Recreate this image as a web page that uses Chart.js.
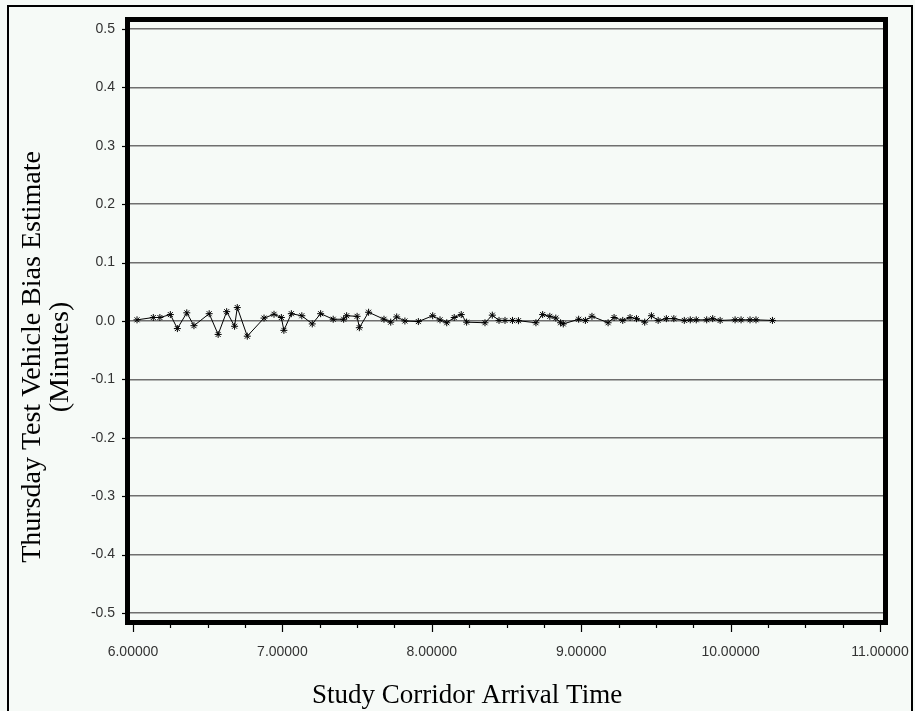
<!DOCTYPE html>
<html>
<head>
  <meta charset="utf-8">
  <title>Thursday Test Vehicle Bias Estimate</title>
  <style>
    body {
      margin: 0;
      background: #f6faf7;
    }
    #chart {
      display: block;
    }
  </style>
</head>
<body>
  <canvas id="chart" width="915" height="711"></canvas>

  <script src="https://cdn.jsdelivr.net/npm/chart.js@4.4.1/dist/chart.umd.min.js"></script>
  <script>
    // arrival time (hours) and bias estimate (minutes)
    var arrivalTime = [
      6.027, 6.136, 6.18, 6.25, 6.297, 6.36, 6.408, 6.51, 6.57, 6.627,
      6.68, 6.698, 6.765, 6.877, 6.944, 6.993, 7.01, 7.06, 7.13, 7.20,
      7.256, 7.34, 7.41, 7.43, 7.50, 7.515, 7.577, 7.68, 7.725, 7.765,
      7.82, 7.91, 8.006, 8.055, 8.10, 8.15, 8.197, 8.233, 8.356, 8.405,
      8.45, 8.49, 8.54, 8.58, 8.697, 8.742, 8.79, 8.83, 8.862, 8.88,
      8.983, 9.028, 9.072, 9.18, 9.22, 9.278, 9.327, 9.37, 9.425, 9.47,
      9.515, 9.57, 9.62, 9.69, 9.73, 9.77, 9.84, 9.88, 9.93, 10.03,
      10.07, 10.13, 10.17, 10.28
    ];
    var biasEstimate = [
      0.002, 0.006, 0.006, 0.011, -0.013, 0.014, -0.008, 0.0125, -0.023, 0.016,
      -0.009, 0.023, -0.026, 0.005, 0.0115, 0.006, -0.016, 0.0125, 0.009, -0.005,
      0.0125, 0.003, 0.003, 0.009, 0.008, -0.0115, 0.015, 0.003, -0.002, 0.007,
      0.0, -0.001, 0.009, 0.002, -0.003, 0.006, 0.011, -0.002, -0.003, 0.010,
      0.001, 0.001, 0.001, 0.0005, -0.003, 0.011, 0.008, 0.005, -0.003, -0.005,
      0.003, 0.001, 0.008, -0.003, 0.006, 0.001, 0.006, 0.004, -0.002, 0.009,
      0.001, 0.004, 0.004, 0.001, 0.002, 0.002, 0.002, 0.004, 0.001, 0.002,
      0.002, 0.002, 0.002, 0.001
    ];
    var xTitle = 'Study Corridor Arrival Time';
    var yTitle = ['Thursday Test Vehicle Bias Estimate', '(Minutes)'];

    var points = arrivalTime.map(function (t, i) {
      return { x: t, y: biasEstimate[i] };
    });

    function isMajorY(v) {
      return Math.abs(Math.round(v * 20)) % 2 === 0;
    }
    function isMajorX(v) {
      return Math.abs(v - Math.round(v)) < 1e-6;
    }
    // keep the plot box where it is, whatever the labels need
    function noPadding(s) {
      s.paddingLeft = 0;
      s.paddingRight = 0;
      s.paddingTop = 0;
      s.paddingBottom = 0;
    }

    // frame, tick marks, page border and axis titles
    var decorations = {
      id: 'decorations',
      afterDraw: function (chart) {
        var c = chart.ctx;
        var a = chart.chartArea;
        var xs = chart.scales.x;
        var ys = chart.scales.y;
        c.save();

        // tick marks
        c.strokeStyle = '#000';
        c.lineWidth = 1.2;
        ys.ticks.forEach(function (t) {
          var py = Math.round(ys.getPixelForValue(t.value)) + 0.5;
          var len = isMajorY(t.value) ? 8 : 4;
          c.beginPath();
          c.moveTo(a.left - len, py);
          c.lineTo(a.left, py);
          c.stroke();
        });
        xs.ticks.forEach(function (t) {
          var px = Math.round(xs.getPixelForValue(t.value)) + 0.5;
          var len = isMajorX(t.value) ? 12 : 8;
          c.beginPath();
          c.moveTo(px, a.bottom);
          c.lineTo(px, a.bottom + len);
          c.stroke();
        });

        // thick plot frame
        c.lineWidth = 5;
        c.strokeRect(a.left - 2.5, a.top - 2.5, a.right - a.left + 5, a.bottom - a.top + 5);

        // page border
        c.lineWidth = 2;
        c.strokeRect(8, 6, 904, 712);

        // axis titles
        c.fillStyle = '#000';
        c.font = '27px "Liberation Serif"';
        c.textAlign = 'center';
        c.textBaseline = 'alphabetic';
        c.fillText(xTitle, 467, 703);

        c.translate(0, 357);
        c.rotate(-Math.PI / 2);
        c.font = '28px "Liberation Serif"';
        c.fillText(yTitle[0], 0, 40);
        c.fillText(yTitle[1], 0, 68);
        c.restore();
      }
    };

    var chart = new Chart(document.getElementById('chart'), {
      type: 'scatter',
      data: {
        datasets: [{
          data: points,
          showLine: true,
          borderColor: '#000',
          borderWidth: 1,
          pointStyle: 'star',
          pointRadius: 3.5,
          pointBorderColor: '#000',
          pointBorderWidth: 1,
          pointBackgroundColor: '#000',
          tension: 0
        }]
      },
      options: {
        responsive: false,
        devicePixelRatio: 1,
        animation: false,
        layout: {
          padding: { left: 0, top: 22, right: 32, bottom: 0 }
        },
        plugins: {
          legend: { display: false },
          tooltip: { enabled: false }
        },
        scales: {
          x: {
            type: 'linear',
            min: 5.98,
            max: 11.02,
            afterFit: function (s) { s.height = 91; noPadding(s); },
            grid: { display: false, drawTicks: false },
            border: { display: false },
            ticks: {
              stepSize: 0.25,
              includeBounds: false,
              autoSkip: false,
              maxRotation: 0,
              padding: 24,
              color: '#333',
              font: { family: 'Liberation Sans', size: 14 },
              callback: function (v) {
                return isMajorX(v) ? v.toFixed(5) : '';
              }
            }
          },
          y: {
            min: -0.512,
            max: 0.512,
            afterFit: function (s) { s.width = 130; noPadding(s); },
            grid: {
              drawTicks: false,
              lineWidth: 1.5,
              color: function (ctx) {
                return ctx.tick && isMajorY(ctx.tick.value) ? '#6f6f6f' : 'rgba(0,0,0,0)';
              }
            },
            border: { display: false },
            ticks: {
              stepSize: 0.05,
              includeBounds: false,
              autoSkip: false,
              padding: 15,
              color: '#333',
              font: { family: 'Liberation Sans', size: 14 },
              callback: function (v) {
                if (!isMajorY(v)) return '';
                if (Math.abs(v) < 1e-9) return '0.0';
                return v.toFixed(1);
              }
            }
          }
        }
      },
      plugins: [decorations]
    });
  </script>
</body>
</html>
